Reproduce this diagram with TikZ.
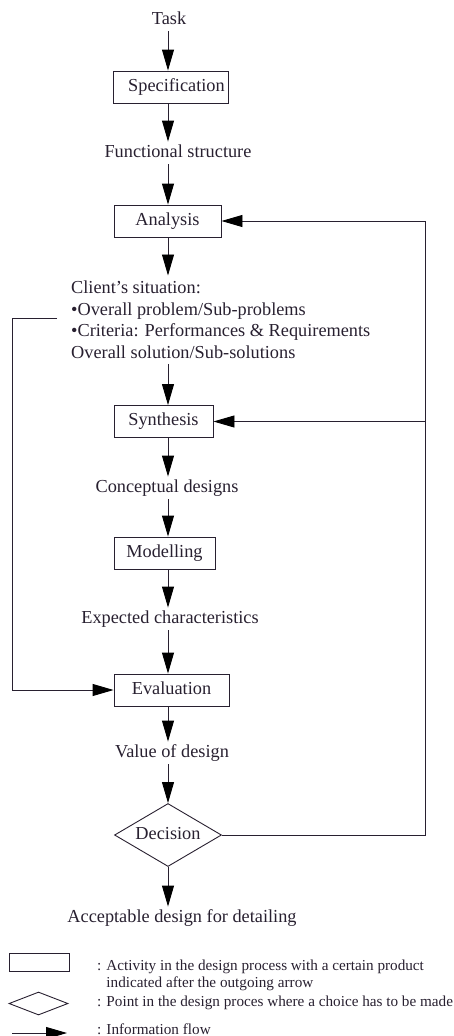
\documentclass[tikz,border=0pt]{standalone}
\usepackage{fontspec}
\setmainfont{Liberation Serif}
\usetikzlibrary{arrows.meta,shapes.geometric}
\definecolor{ink}{RGB}{40,32,48}
\begin{document}
\begin{tikzpicture}[x=1pt,y=-1pt,
  font=\fontsize{18.3}{22}\selectfont,
  every node/.style={text=ink},
  txt/.style={inner xsep=2pt, inner ysep=3pt, text height=12.5pt, text depth=4pt},
  activity/.style={draw=ink, line width=0.9pt, minimum height=32pt, inner sep=0pt,
    text height=12.5pt, text depth=4pt},
  choice/.style={draw=ink, line width=0.9pt, diamond, aspect=1.7, inner sep=0pt,
    text height=12.5pt, text depth=4pt},
  flow/.style={draw=ink, line width=0.9pt, -{Triangle[length=21pt,width=12pt,color=black]}},
  legend/.style={font=\fontsize{15.2}{17}\selectfont, align=left, anchor=west, inner sep=0pt}
]
\useasboundingbox (0,0) rectangle (454,1036);

% main vertical axis of the flow and the return line on the right
\coordinate (axis) at (168,0);
\coordinate (rline) at (425,0);

% process chain
\node[txt] (task) at (169,20) {Task};
\node[activity, minimum width=115pt] (spec) at (170.5,87) {\hspace*{12pt}Specification};
\node[txt] (func) at (178,153) {Functional structure};
\node[activity, minimum width=107pt] (analysis) at (167.5,221) {Analysis};
\node[anchor=north west, align=left, inner sep=0pt, inner ysep=5pt,
      font=\fontsize{18.3}{21.7}\selectfont] (client) at (71,275.5)
  {Client’s situation:\\•Overall problem/Sub-problems\\•Criteria: Performances \& Requirements\\Overall solution/Sub-solutions};
\node[activity, minimum width=99pt] (synthesis) at (163.5,421.5) {Synthesis};
\node[txt] (concept) at (167,488) {Conceptual designs};
\node[activity, minimum width=101pt] (model) at (164.5,553) {Modelling};
\node[txt] (expected) at (170,619) {Expected characteristics};
\node[activity, minimum width=115pt] (eval) at (171.5,690) {Evaluation};
\node[txt] (value) at (172,753) {Value of design};
\node[choice, minimum width=107pt, minimum height=63pt] (decision) at (168,835) {Decision};
\node[txt] (accept) at (182,918) {Acceptable design for detailing};

% forward information flow
\draw[flow] (task.south -| axis) -- (spec.north -| axis);
\draw[flow] (spec.south -| axis) -- (func.north -| axis);
\draw[flow] (func.south -| axis) -- (analysis.north -| axis);
\draw[flow] (analysis.south -| axis) -- (client.north -| axis);
\draw[flow] (client.south -| axis) -- (synthesis.north -| axis);
\draw[flow] (synthesis.south -| axis) -- (concept.north -| axis);
\draw[flow] (concept.south -| axis) -- (model.north -| axis);
\draw[flow] (model.south -| axis) -- (expected.north -| axis);
\draw[flow] (expected.south -| axis) -- (eval.north -| axis);
\draw[flow] (eval.south -| axis) -- (value.north -| axis);
\draw[flow] (value.south -| axis) -- (decision.north);
\draw[flow] (decision.south) -- (accept.north -| axis);

% criteria fed to the evaluation
\coordinate (lstart) at (57,318);
\coordinate (lcorner) at (12,318);
\draw[flow] (lstart) -- (lcorner) |- (eval.west);

% feedback from the decision
\draw[flow] (decision.east) -| (analysis.east -| rline) -- (analysis.east);
\draw[flow] (synthesis.east -| rline) -- (synthesis.east);

% legend
\node[draw=ink, line width=0.9pt, minimum width=60pt, minimum height=18pt, inner sep=0pt] (legbox) at (39,962) {};
\node[draw=ink, line width=0.9pt, diamond, minimum width=59pt, minimum height=23pt, inner sep=0pt] (legdia) at (38.5,1003.5) {};
\coordinate (legfrom) at (12,1033);
\coordinate (legto) at (67,1033);
\draw[flow] (legfrom) -- (legto);
\node[legend, anchor=north west] (legboxtxt) at (97,959.5)
  {: Activity in the design process with a certain product\\\phantom{: }indicated after the outgoing arrow};
\node[legend] (legdiatxt) at (97,1003) {: Point in the design proces where a choice has to be made};
\node[legend] (legflowtxt) at (97,1029) {: Information flow};
\end{tikzpicture}
\end{document}
